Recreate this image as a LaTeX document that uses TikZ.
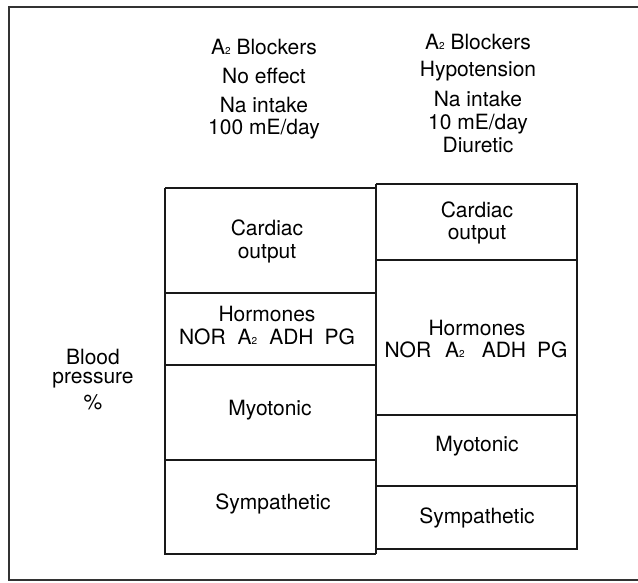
\documentclass[tikz,border=0pt]{standalone}
\usepackage{fontspec}
\setmainfont{TeX Gyre Heros}
\tikzset{
  lbl/.style={anchor=base, inner sep=0pt, font=\fontsize{21}{24}\selectfont},
  tbl/.style={line width=1.4pt, black!90},
  frame/.style={line width=2pt, black!80}
}
\newcommand{\Atwo}{A{\fontsize{10}{10}\selectfont 2}}
\begin{document}
\begin{tikzpicture}[x=1pt,y=-1pt]
\useasboundingbox (0,0) rectangle (638,582);
% outer frame
\draw[frame] (650,7) -- (9,7) -- (9,580) -- (650,580);
% left column
\draw[tbl] (165,188) -- (376,188);
\draw[tbl] (165,188) -- (165,554) -- (376,554);
\draw[tbl] (165,293) -- (376,293);
\draw[tbl] (165,365) -- (376,365);
\draw[tbl] (165,460) -- (376,460);
% middle line
\draw[tbl] (376,184) -- (376,554);
% right column
\draw[tbl] (376,184) -- (577,184) -- (577,549) -- (376,549);
\draw[tbl] (376,260) -- (577,260);
\draw[tbl] (376,415) -- (577,415);
\draw[tbl] (376,486) -- (577,486);
% headings left
\node[lbl] (l1) at (264,54) {\Atwo\ Blockers};
\node[lbl] (l2) at (264,83) {No effect};
\node[lbl] (l3) at (264,112) {Na intake};
\node[lbl] (l4) at (264,134) {100 mE/day};
% headings right
\node[lbl] (r1) at (478,49) {\Atwo\ Blockers};
\node[lbl] (r2) at (478,76) {Hypotension};
\node[lbl] (r3) at (478,106) {Na intake};
\node[lbl] (r4) at (478,129) {10 mE/day};
\node[lbl] (r5) at (478,152) {Diuretic};
% side label
\node[lbl] (bp1) at (93,364) {Blood};
\node[lbl] (bp2) at (93,383) {pressure};
\node[lbl] (bp3) at (93,409) {\%};
% left boxes
\node[lbl] (lc1) at (267,235) {Cardiac};
\node[lbl] (lc2) at (267,258) {output};
\node[lbl] (lh1) at (267,321) {Hormones};
\node[lbl] (lh2) at (267,344) {NOR\hspace{12pt}\Atwo\hspace{12pt}ADH\hspace{11pt}PG};
\node[lbl] (lm) at (270,415) {Myotonic};
\node[lbl] (ls) at (273,509) {Sympathetic};
% right boxes
\node[lbl] (rc1) at (477,217) {Cardiac};
\node[lbl] (rc2) at (477,239) {output};
\node[lbl] (rh1) at (477,335) {Hormones};
\node[lbl] (rh2) at (476,357) {NOR\hspace{14pt}\Atwo\hspace{17pt}ADH\hspace{11pt}PG};
\node[lbl] (rm) at (477,451) {Myotonic};
\node[lbl] (rs) at (477,523) {Sympathetic};
\end{tikzpicture}
\end{document}
